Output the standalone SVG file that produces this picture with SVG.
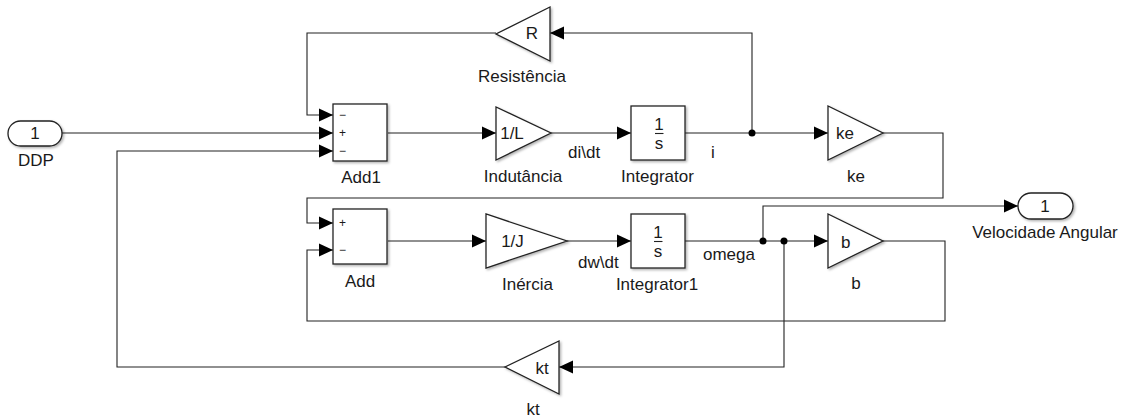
<svg xmlns="http://www.w3.org/2000/svg" width="1126" height="419" viewBox="0 0 1126 419">
<style>
.blk{fill:#fff;stroke:#222;stroke-width:1.3;filter:url(#sh)}
.port{fill:#fff;stroke:#222;stroke-width:1.3;filter:url(#sh)}
.ln{fill:none;stroke:#222;stroke-width:1.1;marker-end:url(#ah)}
.ln0{fill:none;stroke:#222;stroke-width:1.1}
.dot{fill:#000}
text{font-family:"Liberation Sans",Arial,sans-serif;font-size:17px;fill:#1a1a1a}
.c{text-anchor:middle}
.sg{font-size:12px}
</style>
<defs>
<filter id="sh" x="-20%" y="-20%" width="150%" height="150%">
<feDropShadow dx="1.5" dy="1.5" stdDeviation="1" flood-color="#000" flood-opacity="0.3"/>
</filter>
<marker id="ah" markerUnits="userSpaceOnUse" markerWidth="14" markerHeight="14" refX="14" refY="7" orient="auto">
<path d="M0,0.5 L14,7 L0,13.5 z" fill="#000"/>
</marker>
</defs>

<g id="connectors">
<path class="ln" d="M62,133 H333"/>
<path class="ln" d="M496,33 H307 V115 H333"/>
<path class="ln" d="M505,367 H117 V151 H333"/>
<path class="ln" d="M388,133 H496"/>
<path class="ln" d="M551,133 H631"/>
<path class="ln" d="M685,133 H828"/>
<path class="ln" d="M752,133 V33 H550"/>
<path class="ln" d="M883,133 H943 V198 H307 V223 H333"/>
<path class="ln" d="M388,241 H486"/>
<path class="ln" d="M567,241 H631"/>
<path class="ln" d="M685,241 H828"/>
<path class="ln" d="M763,241 V206 H1018"/>
<path class="ln" d="M784,241 V367 H559"/>
<path class="ln" d="M883,241 H945 V321 H307 V250 H333"/>
<circle class="dot" cx="752" cy="133" r="3.5"/>
<circle class="dot" cx="763" cy="241" r="3.5"/>
<circle class="dot" cx="784" cy="241" r="3.5"/>
<text x="568" y="158">di\dt</text>
<text x="711" y="158">i</text>
<text x="578" y="268">dw\dt</text>
<text x="703" y="260">omega</text>
</g>

<g id="DDP">
<rect class="port" x="8" y="121" width="54" height="25" rx="12.5"/>
<text class="c" x="35" y="139">1</text>
<text class="c" x="36" y="166">DDP</text>
</g>

<g id="Add1">
<rect class="blk" x="333" y="104" width="54" height="57"/>
<text class="sg" x="339" y="119">−</text>
<text class="sg" x="339" y="137">+</text>
<text class="sg" x="339" y="155">−</text>
<text class="c" x="361" y="183">Add1</text>
</g>

<g id="Resistencia">
<polygon class="blk" points="550,7 550,61 496,34"/>
<text class="c" x="532" y="39">R</text>
<text class="c" x="522" y="82">Resistência</text>
</g>

<g id="Indutancia">
<polygon class="blk" points="496,107 496,160 551,133"/>
<text class="c" x="512" y="139">1/L</text>
<text class="c" x="523" y="182">Indutância</text>
</g>

<g id="Integrator">
<rect class="blk" x="631" y="106" width="54" height="54"/>
<text class="c" x="659" y="130">1</text>
<path class="ln0" d="M655,133.5 H663.5"/>
<text class="c" x="659" y="149">s</text>
<text class="c" x="657.5" y="182">Integrator</text>
</g>

<g id="ke">
<polygon class="blk" points="828,106 828,160 883,133"/>
<text x="836" y="139">ke</text>
<text class="c" x="856" y="182">ke</text>
</g>

<g id="Add">
<rect class="blk" x="333" y="209" width="54" height="55"/>
<text class="sg" x="339" y="227">+</text>
<text class="sg" x="339" y="254">−</text>
<text class="c" x="360" y="287">Add</text>
</g>

<g id="Inercia">
<polygon class="blk" points="486,214 486,268 567,241"/>
<text class="c" x="512.5" y="247">1/J</text>
<text class="c" x="527.5" y="290">Inércia</text>
</g>

<g id="Integrator1">
<rect class="blk" x="631" y="214" width="54" height="54"/>
<text class="c" x="658" y="238">1</text>
<path class="ln0" d="M654,241.5 H662.5"/>
<text class="c" x="658" y="257">s</text>
<text class="c" x="657" y="290">Integrator1</text>
</g>

<g id="b">
<polygon class="blk" points="828,214 828,268 883,241"/>
<text x="841" y="248">b</text>
<text class="c" x="856" y="289">b</text>
</g>

<g id="VelocidadeAngular">
<rect class="port" x="1018" y="193" width="55" height="26" rx="13"/>
<text class="c" x="1045" y="212">1</text>
<text class="c" x="1045" y="238">Velocidade Angular</text>
</g>

<g id="kt">
<polygon class="blk" points="559,341 559,394 505,367"/>
<text class="c" x="542" y="374">kt</text>
<text class="c" x="533" y="415">kt</text>
</g>
</svg>
